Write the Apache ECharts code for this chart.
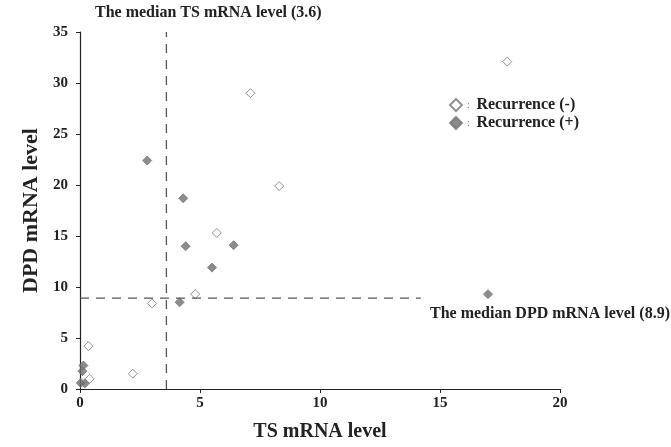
<!DOCTYPE html>
<html>
<head>
<meta charset="utf-8">
<script src="https://cdn.jsdelivr.net/npm/echarts@6/dist/echarts.min.js"></script>
<style>
  html, body { margin: 0; padding: 0; background: #fff; }
  #chart { width: 671px; height: 447px; }
</style>
</head>
<body>
<div id="chart"></div>
<script>
// 数据: 读图估计的 TS / DPD mRNA 水平
const recurrenceNegative = [
  [17.8, 32.1], [7.1, 29.0], [8.3, 19.9], [5.7, 15.3], [4.8, 9.3],
  [3.0, 8.4], [0.35, 4.2], [2.2, 1.5], [0.4, 1.0]
]
const recurrencePositive = [
  [2.8, 22.4], [4.3, 18.7], [4.4, 14.0], [6.4, 14.1], [5.5, 11.9],
  [4.15, 8.5], [17.0, 9.3], [0.14, 2.3], [0.1, 1.75], [0.03, 0.6], [0.2, 0.55]
]
const medianTs = 3.6
const medianDpd = 8.9
const medianTsLine = [[medianTs, 0], [medianTs, 35]]
const medianDpdLine = [[0, medianDpd], [14.2, medianDpd]]
const seriesNames = ['Recurrence (-)', 'Recurrence (+)']

const serif = '"Liberation Serif", "DejaVu Serif", serif'
const chart = echarts.init(document.getElementById('chart'))

chart.setOption({
  backgroundColor: '#fff',
  animation: false,
  grid: { left: 80, right: 111, top: 32, bottom: 54 },
  legend: {
    orient: 'vertical',
    left: 444,
    top: 92,
    itemGap: 2,
    itemWidth: 12,
    itemHeight: 12,
    data: seriesNames.map((name) => ({ name, icon: 'diamond' })),
    formatter: (name) => `{c|:}  {b|${name}}`,
    textStyle: {
      rich: {
        c: { fontFamily: serif, fontSize: 10, color: '#777' },
        b: { fontFamily: serif, fontSize: 16, fontWeight: 'bold', color: '#222' }
      }
    }
  },
  xAxis: {
    type: 'value',
    min: 0,
    max: 20,
    interval: 5,
    name: 'TS mRNA level',
    nameLocation: 'middle',
    nameGap: 33,
    nameTextStyle: { fontFamily: serif, fontSize: 20, fontWeight: 'bold', color: '#222' },
    splitLine: { show: false },
    axisLine: { lineStyle: { color: '#222', width: 1.2 } },
    axisTick: { length: 4, lineStyle: { color: '#222' } },
    axisLabel: { fontFamily: serif, fontSize: 15, fontWeight: 'bold', color: '#222', margin: 7 }
  },
  yAxis: {
    type: 'value',
    min: 0,
    max: 35,
    interval: 5,
    name: 'DPD mRNA level',
    nameLocation: 'middle',
    nameGap: 38,
    nameTextStyle: { fontFamily: serif, fontSize: 22, fontWeight: 'bold', color: '#222' },
    splitLine: { show: false },
    axisLine: { show: true, lineStyle: { color: '#222', width: 1.2 } },
    axisTick: { show: true, length: 4, lineStyle: { color: '#222' } },
    axisLabel: { fontFamily: serif, fontSize: 15, fontWeight: 'bold', color: '#222', margin: 12 }
  },
  graphic: [
    {
      type: 'text',
      left: 95,
      top: 5,
      style: { text: 'The median TS mRNA level (3.6)', font: `bold 16px ${serif}`, fill: '#222' }
    },
    {
      type: 'text',
      left: 430,
      top: 306,
      style: { text: 'The median DPD mRNA level (8.9)', font: `bold 16px ${serif}`, fill: '#222' }
    }
  ],
  series: [
    {
      type: 'line',
      data: medianTsLine,
      symbol: 'none',
      silent: true,
      lineStyle: { color: '#555', width: 1.3, type: [9, 7] }
    },
    {
      type: 'line',
      data: medianDpdLine,
      symbol: 'none',
      silent: true,
      lineStyle: { color: '#555', width: 1.3, type: [9, 7] }
    },
    {
      name: seriesNames[0],
      type: 'scatter',
      symbol: 'diamond',
      symbolSize: 9,
      data: recurrenceNegative,
      itemStyle: { color: '#fff', borderColor: '#777', borderWidth: 1 }
    },
    {
      name: seriesNames[1],
      type: 'scatter',
      symbol: 'diamond',
      symbolSize: 9,
      data: recurrencePositive,
      itemStyle: { color: '#6f6f6f', borderColor: '#777', borderWidth: 1 }
    }
  ]
})
</script>
</body>
</html>
